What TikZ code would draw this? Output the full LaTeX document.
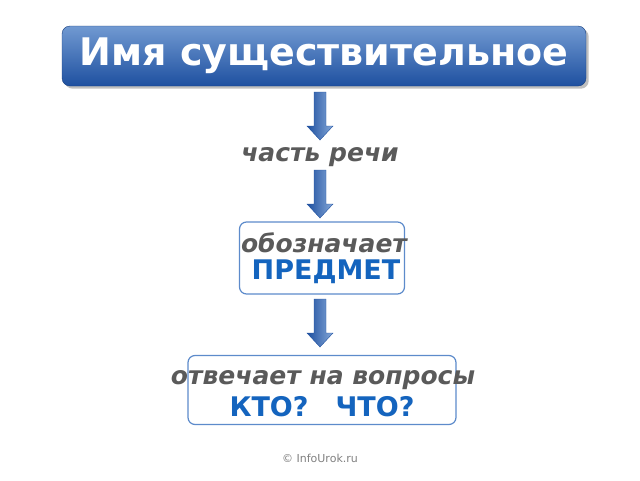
\documentclass[tikz,border=0pt]{standalone}
\usepackage{fontspec}
\setmainfont{DejaVu Sans}
\usetikzlibrary{positioning,shadows}
\definecolor{titleblue}{RGB}{52,110,190}
\definecolor{darkblue}{RGB}{30,80,160}
\definecolor{textgray}{RGB}{90,90,90}
\definecolor{wordblue}{RGB}{20,100,190}
\tikzset{
  titlebox/.style={rectangle, rounded corners=8pt, minimum width=524pt, minimum height=60pt,
    top color=titleblue!70!white, bottom color=darkblue, draw=darkblue!80!black,
    text=white, font=\fontsize{38}{44}\selectfont\bfseries, drop shadow},
  framebox/.style={rectangle, rounded corners=7pt, draw=titleblue!80, line width=1.2pt, fill=white},
  arrowfill/.style={draw=darkblue, left color=darkblue, right color=titleblue!60!white},
  grayword/.style={text=textgray, font=\fontsize{25}{30}\selectfont\bfseries\itshape},
  blueword/.style={text=wordblue, font=\fontsize{27}{32}\selectfont\bfseries}
}
% thick block arrow pointing down from (#1,#2), 48pt long
\newcommand{\downarr}[2]{
  \draw[arrowfill] (#1-6,#2) -- (#1+6,#2) -- (#1+6,#2+34) -- (#1+13,#2+34)
    -- (#1,#2+48) -- (#1-13,#2+34) -- (#1-6,#2+34) -- cycle;
}
\begin{document}
\begin{tikzpicture}[x=1pt,y=-1pt]
  \useasboundingbox (0,0) rectangle (640,480);
  \node (title) [titlebox] at (324,56) {Имя существительное};
  \downarr{320}{92}
  \node (part) [grayword] at (320,157) {часть речи};
  \downarr{320}{170}
  \node (box1) [framebox, minimum width=165pt, minimum height=72pt] at (322,258) {};
  \node (means) [grayword] at (324,243) {обозначает};
  \node (object) [blueword] at (326,272) {ПРЕДМЕТ};
  \downarr{320}{299}
  \node (box2) [framebox, minimum width=268pt, minimum height=69pt] at (322,390) {};
  \node (answers) [grayword] at (323,380) {отвечает на вопросы};
  \node (who) [blueword] at (322,407) {КТО?\quad ЧТО?};
  \node (credit) [text=gray, font=\fontsize{11}{13}\selectfont] at (320,458) {© InfoUrok.ru};
\end{tikzpicture}
\end{document}
